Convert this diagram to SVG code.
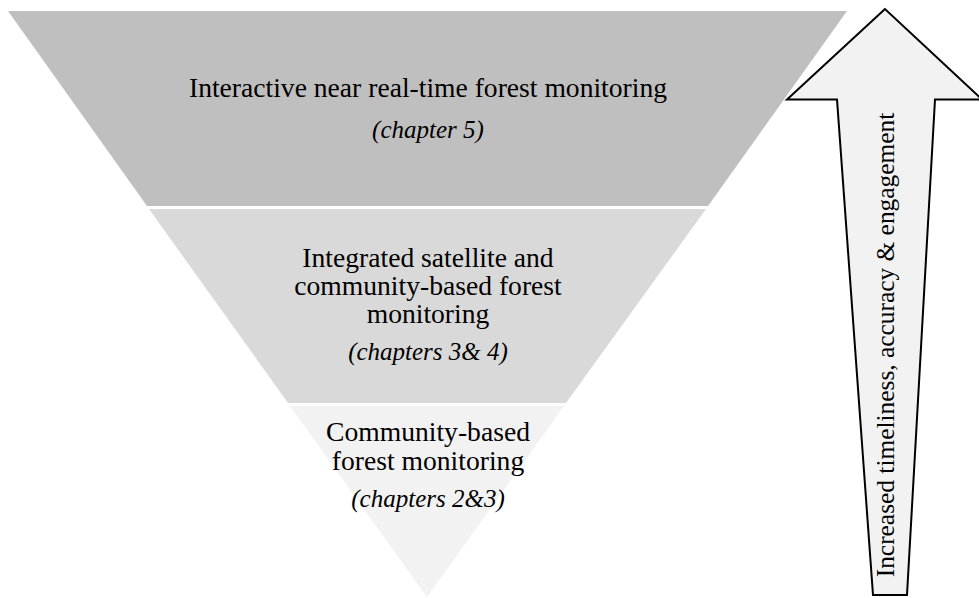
<svg xmlns="http://www.w3.org/2000/svg" width="979" height="598" viewBox="0 0 979 598">
<style>
.t{font-family:"Liberation Serif","Times New Roman",serif;font-size:27.6px;fill:#000;text-anchor:middle}
.i{font-family:"Liberation Serif","Times New Roman",serif;font-size:25px;font-style:italic;fill:#000;text-anchor:middle}
.v{font-family:"Liberation Serif","Times New Roman",serif;font-size:25.4px;fill:#000;text-anchor:middle}
</style>
<rect width="979" height="598" fill="#fff"/>
<g id="level-top">
<polygon points="8,11 847,11 708,206 147,206" fill="#bfbfbf"/>
<text class="t" x="428" y="97">Interactive near real-time forest monitoring</text>
<text class="i" x="428" y="138">(chapter 5)</text>
</g>
<g id="level-middle">
<polygon points="149,209 706,209 566,403 288,403" fill="#d9d9d9"/>
<text class="t" x="428" y="266.5">Integrated satellite and</text>
<text class="t" x="428" y="294.5">community-based forest</text>
<text class="t" x="428" y="322.5">monitoring</text>
<text class="i" x="428" y="360">(chapters 3&amp; 4)</text>
</g>
<g id="level-bottom">
<polygon points="290,406 564,406 427,597" fill="#f2f2f2"/>
<text class="t" x="428" y="441">Community-based</text>
<text class="t" x="428" y="469.5">forest monitoring</text>
<text class="i" x="428" y="507">(chapters 2&amp;3)</text>
</g>
<g id="connectors">
<g id="arrow">
<polygon points="885,9 787,99.5 837,99.5 873,595 907,595 935,99.5 982,99.5" fill="#f2f2f2" stroke="#000" stroke-width="2" stroke-linejoin="miter"/>
<text class="v" transform="translate(894,345) rotate(-90)">Increased timeliness, accuracy &amp; engagement</text>
</g>
</g>
</svg>
